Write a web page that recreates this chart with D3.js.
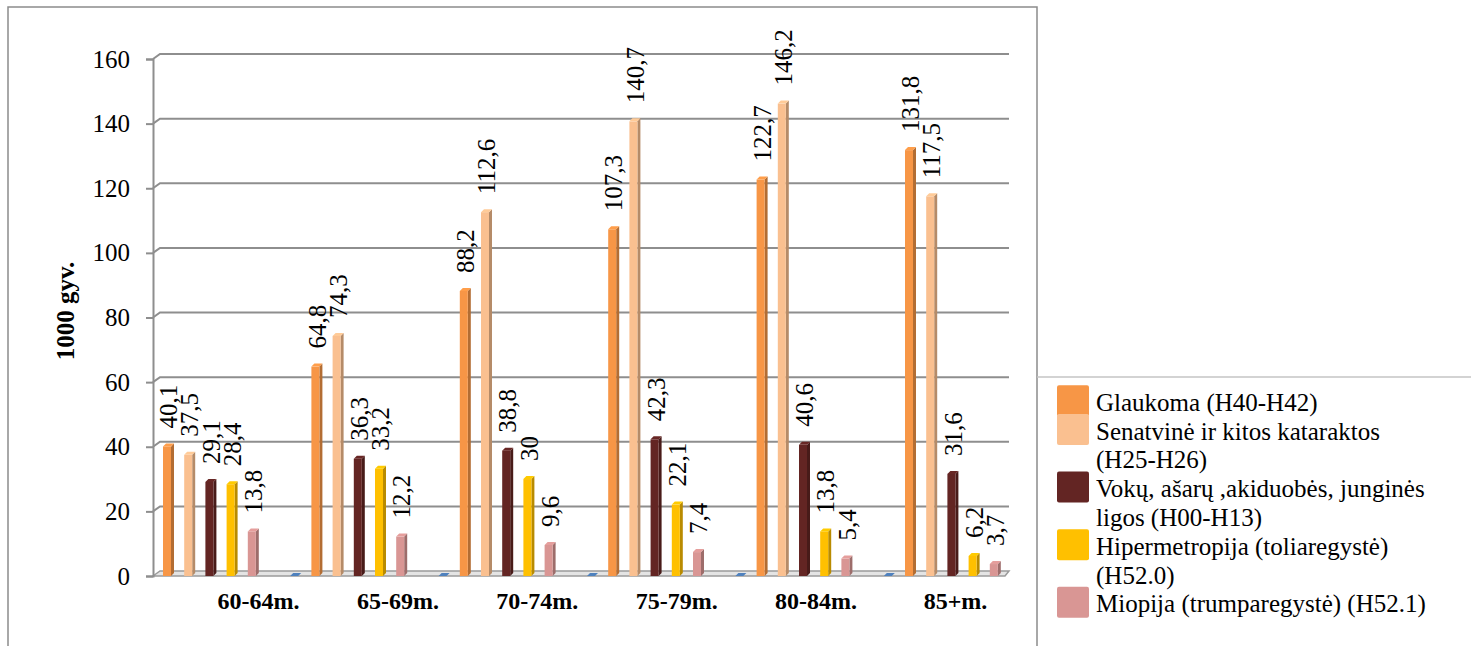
<!DOCTYPE html>
<html>
<head>
<meta charset="utf-8">
<script src="https://cdn.jsdelivr.net/npm/d3@7"></script>
<style>
  html, body { margin: 0; padding: 0; background: #fff; }
  svg { display: block; }
  text { font-family: "Liberation Serif", "Times New Roman", serif; fill: #000; }
</style>
</head>
<body>
<svg id="chart" width="1471" height="646"></svg>
<script>
// ---------- DATA ----------
const categories = ["60-64m.", "65-69m.", "70-74m.", "75-79m.", "80-84m.", "85+m."];
const seriesNames = [
  "",
  "Glaukoma (H40-H42)",
  "Senatvinė ir kitos kataraktos (H25-H26)",
  "Vokų, ašarų ,akiduobės, junginės ligos (H00-H13)",
  "Hipermetropija (toliaregystė) (H52.0)",
  "Miopija (trumparegystė) (H52.1)"
];
const blankSeries = [0, 0, 0, 0, 0, 0];
const glaukoma   = [40.1, 64.8, 88.2, 107.3, 122.7, 131.8];
const katarakta  = [37.5, 74.3, 112.6, 140.7, 146.2, 117.5];
const voku       = [29.1, 36.3, 38.8, 42.3, 40.6, 31.6];
const hiper      = [28.4, 33.2, 30, 22.1, 13.8, 6.2];
const miopija    = [13.8, 12.2, 9.6, 7.4, 5.4, 3.7];
const yTicks     = [0, 20, 40, 60, 80, 100, 120, 140, 160];
const yTitle     = "1000 gyv.";
const legendLines = [
  ["Glaukoma (H40-H42)"],
  ["Senatvinė ir kitos kataraktos", "(H25-H26)"],
  ["Vokų, ašarų ,akiduobės, junginės", "ligos (H00-H13)"],
  ["Hipermetropija (toliaregystė)", "(H52.0)"],
  ["Miopija (trumparegystė) (H52.1)"]
];
const colors = ["#4F81BD", "#F79646", "#FAC090", "#632523", "#FFC000", "#D99694"];

const seriesValues = [blankSeries, glaukoma, katarakta, voku, hiper, miopija];

// ---------- LAYOUT ----------
const svg = d3.select("#chart");
const W = 1471, H = 646;
const axisX = 153;          // front left axis line
const depth = 3;            // 3D bar depth
const wallDX = 7, wallDY = 5; // floor/wall perspective offset
const plotRight = 1009;

const y = d3.scaleLinear().domain([0, 160]).range([576, 59]);
const x0 = d3.scaleBand().domain(categories).range([136.8, 1027.2]).paddingInner(0).paddingOuter(0);
const x1 = d3.scaleBand().domain(d3.range(seriesValues.length))
  .range([0, x0.bandwidth()]).paddingInner(0).paddingOuter(0.5).align(0);
const barOffset = 5, barW = 8;

// Outer frame
svg.append("path")
  .attr("d", `M8,646 V7 H1037 V646`)
  .attr("fill", "none").attr("stroke", "#8c8c8c").attr("stroke-width", 1.5);
// Legend box top line
svg.append("line")
  .attr("x1", 1037).attr("x2", 1471).attr("y1", 377).attr("y2", 377)
  .attr("stroke", "#c4c4c4").attr("stroke-width", 1.5);

// Gridlines (back wall) with perspective join to front axis
const grid = svg.append("g");
yTicks.forEach(v => {
  const yy = y(v);
  if (v === 0) return;
  grid.append("path")
    .attr("d", `M${axisX},${yy} L${axisX + wallDX},${yy - wallDY} H${plotRight}`)
    .attr("fill", "none").attr("stroke", "#8e8e8e").attr("stroke-width", 2);
});

// Floor
svg.append("path")
  .attr("d", `M${axisX},${y(0)} L${axisX + wallDX},${y(0) - wallDY} H${plotRight} L${plotRight - 4},${y(0)} Z`)
  .attr("fill", "#e4e4e4").attr("stroke", "#9a9a9a").attr("stroke-width", 1.5);

// Y axis
const yAxis = d3.axisLeft(y).tickValues(yTicks).tickSize(7).tickPadding(16).tickFormat(d => d);
const gy = svg.append("g").attr("transform", `translate(${axisX},0)`).call(yAxis);
gy.select(".domain").attr("stroke", "#8e8e8e").attr("stroke-width", 2);
gy.selectAll(".tick line").attr("stroke", "#8e8e8e").attr("stroke-width", 2);
gy.selectAll(".tick text")
  .style("font-family", "'Liberation Serif', serif").style("font-size", "25px").attr("fill", "#000");

// Y title
svg.append("text")
  .attr("transform", `translate(74,311) rotate(-90)`)
  .attr("text-anchor", "middle")
  .style("font-size", "25px").style("font-weight", "bold")
  .text(yTitle);

// Clip for bars (plot area)
svg.append("clipPath").attr("id", "plotClip")
  .append("rect").attr("x", axisX + 1).attr("y", 0).attr("width", plotRight - axisX).attr("height", H);

// Bars
const bars = svg.append("g").attr("clip-path", "url(#plotClip)");
const labels = svg.append("g");

categories.forEach((cat, ci) => {
  seriesValues.forEach((vals, si) => {
    const v = vals[ci];
    if (v === null || v === undefined) return;
    const xl = x0(cat) + x1(si) + barOffset;
    const yt = y(v), yb = y(0);
    const c = d3.color(colors[si]);
    const side = c.darker(0.9).formatHex();
    const top = c.brighter(0.15).formatHex();
    // side face
    bars.append("path")
      .attr("d", `M${xl + barW},${yt} L${xl + barW + depth},${yt - depth} V${yb - depth} L${xl + barW},${yb} Z`)
      .attr("fill", side);
    // front face
    bars.append("rect")
      .attr("x", xl).attr("y", yt).attr("width", barW).attr("height", Math.max(0, yb - yt))
      .attr("fill", colors[si]);
    // top face
    bars.append("path")
      .attr("d", `M${xl},${yt} L${xl + depth},${yt - depth} H${xl + barW + depth} L${xl + barW},${yt} Z`)
      .attr("fill", si === 0 ? colors[si] : top);
    // value label
    if (si > 0) {
      const cx = xl + (barW + depth) / 2;
      labels.append("text")
        .attr("transform", `translate(${cx},${yt - 18}) rotate(-90)`)
        .attr("text-anchor", "start")
        .attr("dy", "0.35em")
        .style("font-size", "25px")
        .text(String(v).replace(".", ","));
    }
  });
});

// Category axis labels
const xLab = d3.scaleBand().domain(categories).range([188.8, 1025.2]);
const xAxis = d3.axisBottom(xLab).tickSize(0).tickPadding(0);
const gx = svg.append("g").attr("transform", `translate(0,592)`).call(xAxis);
gx.select(".domain").remove();
gx.selectAll(".tick text")
  .attr("dy", "0.71em")
  .style("font-family", "'Liberation Serif', serif")
  .style("font-size", "24px").style("font-weight", "bold").attr("fill", "#000");

// Legend
const lg = svg.append("g");
let baseline = 410.7;
const lineH = 28.8;
legendLines.forEach((lines, i) => {
  lg.append("rect")
    .attr("x", 1057).attr("y", baseline - 10 - 15.5)
    .attr("width", 32).attr("height", 31).attr("rx", 2)
    .attr("fill", colors[i + 1]);
  lines.forEach((ln, j) => {
    lg.append("text")
      .attr("x", 1096).attr("y", baseline + j * lineH)
      .style("font-size", "25px")
      .text(ln);
  });
  baseline += lines.length * lineH;
});
</script>
</body>
</html>
